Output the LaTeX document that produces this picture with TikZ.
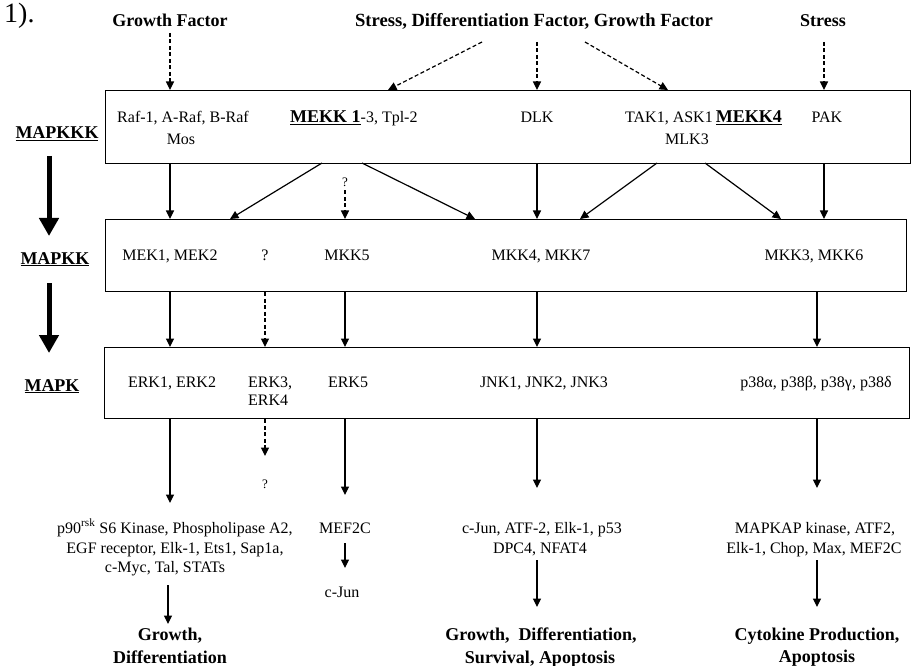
\documentclass[tikz,border=0pt]{standalone}
\usepackage{fontspec}
\setmainfont{Liberation Serif}
\usetikzlibrary{arrows.meta}
\begin{document}
\begin{tikzpicture}[x=1pt,y=-1pt,
  lab/.style={font=\fontsize{16}{18}\selectfont, inner sep=0pt, anchor=base},
  blab/.style={font=\fontsize{18}{22}\selectfont\bfseries, inner sep=0pt, anchor=base},
  box/.style={draw, line width=1.4pt, anchor=north west, inner sep=0pt},
  arr/.style={-{Triangle[width=8pt,length=8.5pt]}, line width=1.2pt},
  darr/.style={arr, dash pattern=on 4pt off 2.5pt},
  bigarr/.style={-{Triangle[width=19pt,length=18pt]}, line width=5pt}]
\useasboundingbox (0,0) rectangle (919,666);

% figure number
\node[inner sep=0pt, anchor=base west, font=\fontsize{28}{30}\selectfont] (fig) at (4,23) {1).};

% top labels
\node[blab] (gf) at (170,27) {Growth Factor};
\node[blab, font=\fontsize{18.6}{22}\selectfont\bfseries] (sdg) at (534,27) {Stress, Differentiation Factor, Growth Factor};
\node[blab] (st) at (823,27) {Stress};

% boxes
\node[box, minimum width=805pt, minimum height=73pt] (kkk) at (105,90) {};
\node[box, minimum width=801pt, minimum height=72pt] (kk) at (105,219) {};
\node[box, minimum width=805pt, minimum height=71pt] (k) at (104,347) {};

% left labels
\node[blab] (lkkk) at (57,139) {\underline{MAPKKK}};
\node[blab] (lkk) at (55,264) {\underline{MAPKK}};
\node[blab] (lk) at (52,391) {\underline{MAPK}};
\coordinate (t1a) at (49,156);
\coordinate (t1b) at (49,236);
\coordinate (t2a) at (49,283);
\coordinate (t2b) at (49,353);
\draw[bigarr] (t1a) -- (t1b);
\draw[bigarr] (t2a) -- (t2b);

% MAPKKK contents
\node[lab] (raf) at (183,123) {Raf-1, A-Raf, B-Raf};
\node[lab] (mos) at (181,145) {Mos};
\node[lab, anchor=base west] (mekk) at (290,123) {{\fontsize{18}{22}\selectfont\bfseries\underline{MEKK 1}}-3, Tpl-2};
\node[lab] (dlk) at (537,123) {DLK};
\node[lab, anchor=base east] (tak) at (713,123) {TAK1, ASK1};
\node[blab, anchor=base east] (mekk4) at (782,123) {\underline{MEKK4}};
\node[lab] (mlk) at (687,145) {MLK3};
\node[lab] (pak) at (827,123) {PAK};

% MAPKK contents
\node[lab] (mek) at (170,260) {MEK1, MEK2};
\node[lab] (qkk) at (265,260) {?};
\node[lab] (mkk5) at (347,260) {MKK5};
\node[lab] (mkk47) at (541,260) {MKK4, MKK7};
\node[lab] (mkk36) at (814,260) {MKK3, MKK6};

% MAPK contents
\node[lab] (erk12) at (172,387) {ERK1, ERK2};
\node[lab, anchor=base west] (erk3) at (248,387) {ERK3,};
\node[lab, anchor=base west] (erk4) at (248,405) {ERK4};
\node[lab] (erk5) at (348,387) {ERK5};
\node[lab] (jnk) at (544,387) {JNK1, JNK2, JNK3};
\node[lab] (p38) at (816,387) {p38α, p38β, p38γ, p38δ};

% top dashed arrows
\coordinate (d1a) at (170,33);
\coordinate (d2a) at (482,42);
\coordinate (d2b) at (388,90);
\coordinate (d3a) at (537,42);
\coordinate (d4a) at (585,42);
\coordinate (d4b) at (668,90);
\coordinate (d5a) at (824,42);
\draw[darr] (d1a) -- (d1a |- kkk.north);
\draw[darr] (d2a) -- (d2b);
\draw[darr] (d3a) -- (d3a |- kkk.north);
\draw[darr] (d4a) -- (d4b);
\draw[darr] (d5a) -- (d5a |- kkk.north);

% MAPKKK -> MAPKK
\draw[arr] (170,0 |- kkk.south) -- (170,0 |- kk.north);
\coordinate (e1a) at (322,163);
\coordinate (e1b) at (230,219);
\coordinate (e2a) at (362,163);
\coordinate (e2b) at (475,219);
\coordinate (e3a) at (657,163);
\coordinate (e3b) at (580,219);
\coordinate (e4a) at (705,163);
\coordinate (e4b) at (781,219);
\draw[arr] (e1a) -- (e1b);
\draw[arr] (e2a) -- (e2b);
\draw[arr] (e3a) -- (e3b);
\draw[arr] (e4a) -- (e4b);
\node[lab, font=\fontsize{13}{15}\selectfont] (q1) at (345,187) {?};
\draw[darr] ([yshift=-3pt]q1.south) -- (q1 |- kk.north);
\draw[arr] (537,0 |- kkk.south) -- (537,0 |- kk.north);
\draw[arr] (824,0 |- kkk.south) -- (824,0 |- kk.north);

% MAPKK -> MAPK
\draw[arr] (170,0 |- kk.south) -- (170,0 |- k.north);
\draw[darr] (265,0 |- kk.south) -- (265,0 |- k.north);
\draw[arr] (345,0 |- kk.south) -- (345,0 |- k.north);
\draw[arr] (537,0 |- kk.south) -- (537,0 |- k.north);
\draw[arr] (817,0 |- kk.south) -- (817,0 |- k.north);

% MAPK -> substrates
\coordinate (s1) at (170,503);
\coordinate (s2) at (265,456);
\coordinate (s3) at (345,495);
\coordinate (s4) at (537,488);
\coordinate (s5) at (817,488);
\draw[arr] (s1 |- k.south) -- (s1);
\draw[darr] (s2 |- k.south) -- (s2);
\draw[arr] (s3 |- k.south) -- (s3);
\draw[arr] (s4 |- k.south) -- (s4);
\draw[arr] (s5 |- k.south) -- (s5);
\node[lab, font=\fontsize{13}{15}\selectfont] (q2) at (265,488) {?};

% substrates
\node[lab] (sa1) at (175,533) {p90\textsuperscript{rsk} S6 Kinase, Phospholipase A2,};
\node[lab] (sa2) at (175,553) {EGF receptor, Elk-1, Ets1, Sap1a,};
\node[lab] (sa3) at (165,572) {c-Myc, Tal, STATs};
\node[lab] (mef) at (345,533) {MEF2C};
\node[lab] (cjun) at (342,597) {c-Jun};
\node[lab] (sb1) at (542,533) {c-Jun, ATF-2, Elk-1, p53};
\node[lab] (sb2) at (540,553) {DPC4, NFAT4};
\node[lab] (sc1) at (815,533) {MAPKAP kinase, ATF2,};
\node[lab] (sc2) at (814,553) {Elk-1, Chop, Max, MEF2C};

\coordinate (m1) at (345,543);
\coordinate (m2) at (345,568);
\draw[arr] (m1) -- (m2);
\coordinate (o1a) at (168,585);
\coordinate (o1b) at (168,624);
\coordinate (o2a) at (537,560);
\coordinate (o2b) at (537,607);
\coordinate (o3a) at (817,560);
\coordinate (o3b) at (817,607);
\draw[arr] (o1a) -- (o1b);
\draw[arr] (o2a) -- (o2b);
\draw[arr] (o3a) -- (o3b);

% outcomes
\node[blab] (oa1) at (170,640) {Growth,};
\node[blab] (oa2) at (170,663) {Differentiation};
\node[blab] (ob1) at (541,640) {Growth,\ \ Differentiation,};
\node[blab] (ob2) at (540,663) {Survival, Apoptosis};
\node[blab] (oc1) at (817,640) {Cytokine Production,};
\node[blab] (oc2) at (817,662) {Apoptosis};
\end{tikzpicture}
\end{document}
